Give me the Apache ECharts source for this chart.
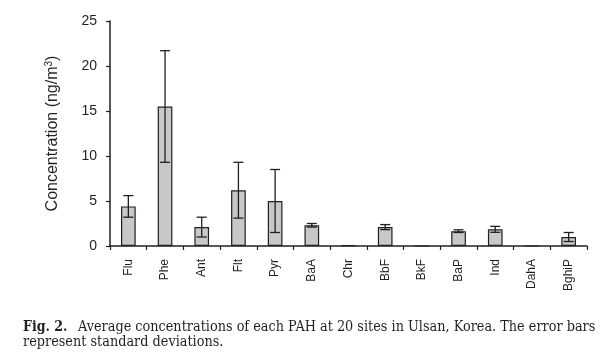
<!DOCTYPE html>
<html>
<head>
<meta charset="utf-8">
<script src="https://cdn.jsdelivr.net/npm/echarts@6/dist/echarts.min.js"></script>
<style>
html,body{margin:0;padding:0;background:#fff;}
#c{width:613px;height:362px;}
</style>
</head>
<body>
<div id="c"></div>
<script>
var categories = ['Flu','Phe','Ant','Flt','Pyr','BaA','Chr','BbF','BkF','BaP','Ind','DahA','BghiP'];
var means = [4.4, 15.5, 2.1, 6.2, 5.0, 2.3, 0.1, 2.1, 0, 1.65, 1.85, 0, 1.0];
var sds   = [1.2, 6.2, 1.1, 3.1, 3.5, 0.2, 0, 0.28, 0, 0.15, 0.33, 0, 0.5];
var yTicks = [0, 5, 10, 15, 20, 25];
var captionLine1Bold = 'Fig. 2.';
var captionLine1 = 'Average concentrations of each PAH at 20 sites in Ulsan, Korea. The error bars';
var captionLine2 = 'represent standard deviations.';

var errData = categories.map(function(c, i){ return [i, means[i] - sds[i], means[i] + sds[i]]; });
var ink = '#231f20';

var chart = echarts.init(document.getElementById('c'), null, {renderer:'canvas'});
chart.setOption({
  animation:false,
  backgroundColor:'#fff',
  grid:{left:110, right:26, top:21, bottom:116, containLabel:false},
  xAxis:{
    type:'category', data:categories,
    axisLine:{lineStyle:{color:ink, width:1.5}},
    axisTick:{show:true, length:4, lineStyle:{color:ink, width:1.2}},
    axisLabel:{rotate:90, fontFamily:'Liberation Sans', fontSize:12, color:ink, margin:13, interval:0},
    splitLine:{show:false}
  },
  yAxis:{
    type:'value', min:yTicks[0], max:yTicks[yTicks.length-1], interval:5,
    name:'Concentration (ng/m{sup|3})',
    nameLocation:'middle', nameGap:48,
    nameTextStyle:{fontFamily:'Liberation Sans', fontSize:16, color:ink,
      rich:{sup:{fontFamily:'Liberation Sans', fontSize:10, color:ink, padding:[0,0,8,0]}}},
    axisLine:{show:true, lineStyle:{color:ink, width:1.5}},
    axisTick:{show:true, length:4, inside:false, lineStyle:{color:ink, width:1.2}},
    axisLabel:{fontFamily:'Liberation Sans', fontSize:14, color:ink, margin:13},
    splitLine:{show:false}
  },
  series:[
    {
      type:'bar', data:means, barWidth:'40%',
      itemStyle:{color:'#c8c8c8', borderColor:ink, borderWidth:1.2},
      z:2
    },
    {
      type:'custom', data:errData, z:3,
      renderItem:function(params, api){
        var i = api.value(0), lo = api.value(1), hi = api.value(2);
        if (hi - lo <= 0) return null;
        var pLo = api.coord([i, lo]), pHi = api.coord([i, hi]);
        var hw = 5;
        var st = {stroke:ink, lineWidth:1.3};
        return {type:'group', children:[
          {type:'line', shape:{x1:pLo[0], y1:pLo[1], x2:pHi[0], y2:pHi[1]}, style:st},
          {type:'line', shape:{x1:pHi[0]-hw, y1:pHi[1], x2:pHi[0]+hw, y2:pHi[1]}, style:st},
          {type:'line', shape:{x1:pLo[0]-hw, y1:pLo[1], x2:pLo[0]+hw, y2:pLo[1]}, style:st}
        ]};
      }
    }
  ],
  graphic:[
    {type:'text', left:23, top:320, style:{text:captionLine1Bold, font:'bold 14px "DejaVu Serif Condensed"', fill:ink}},
    {type:'text', left:78, top:320, style:{text:captionLine1, font:'14.3px "DejaVu Serif Condensed"', fill:ink}},
    {type:'text', left:23, top:335, style:{text:captionLine2, font:'14.3px "DejaVu Serif Condensed"', fill:ink}}
  ]
});
</script>
</body>
</html>
